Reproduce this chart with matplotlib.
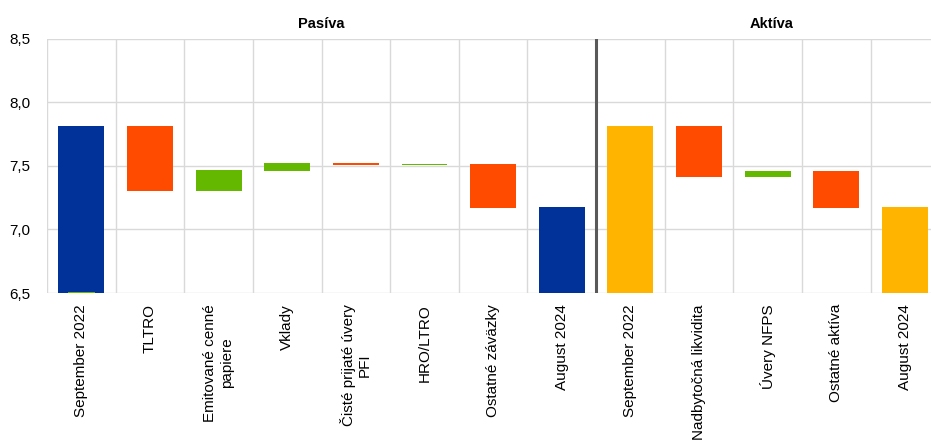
import matplotlib.pyplot as plt
from matplotlib.ticker import FuncFormatter

plt.rcParams['font.family'] = ['Liberation Sans', 'DejaVu Sans']

# categories (bottom-aligned labels)
labels = ['September 2022', 'TLTRO', 'Emitované cenné\npapiere', 'Vklady',
          'Čisté prijaté úvery\nPFI', 'HRO/LTRO', 'Ostatné záväzky', 'August 2024',
          'September 2022', 'Nadbytočná likvidita', 'Úvery NFPS', 'Ostatné aktíva',
          'August 2024']
# waterfall segments: low and high end of each bar
lows = [6.5, 7.305, 7.305, 7.463, 7.510, 7.505, 7.172, 6.5,
        6.5, 7.416, 7.416, 7.172, 6.5]
highs = [7.815, 7.815, 7.468, 7.524, 7.524, 7.513, 7.516, 7.175,
         7.815, 7.815, 7.461, 7.461, 7.175]
kinds = ['pas', 'neg', 'pos', 'pos', 'neg', 'pos', 'neg', 'pas',
         'akt', 'neg', 'pos', 'neg', 'akt']

colors = {'pas': '#003299', 'akt': '#FFB400', 'neg': '#FF4B00', 'pos': '#65B800'}

fig = plt.figure(figsize=(9.31, 4.43), dpi=100)
ax = fig.add_axes([0.0505, 0.3386, 0.9495, 0.5734])

x = list(range(len(labels)))
heights = [h - l for l, h in zip(lows, highs)]
ax.bar(x, heights, bottom=lows, width=0.67,
       color=[colors[k] for k in kinds], zorder=3)
# small green sliver at base of first bar (as in source)
ax.bar([0], [0.012], bottom=6.494, width=0.4, color=colors['pos'], zorder=4)

ax.set_ylim(6.5, 8.5)
ax.set_xlim(-0.5, 12.38)
ax.set_yticks([6.5, 7.0, 7.5, 8.0, 8.5])
ax.yaxis.set_major_formatter(FuncFormatter(lambda v, p: f'{v:.1f}'.replace('.', ',')))
ax.set_xticks(x)
ax.set_xticklabels(labels, rotation=90, ha='center', va='top',
                   multialignment='center', fontsize=11)
ax.tick_params(axis='y', length=0, pad=12, labelsize=11)
ax.tick_params(axis='x', length=0, pad=8)

# grid: horizontal at ticks, vertical between categories
for v in [6.5, 7.0, 7.5, 8.0, 8.5]:
    ax.axhline(v, color='#d9d9d9', lw=1, zorder=1)
for b in range(13):
    ax.axvline(b - 0.5, color='#d9d9d9', lw=1, zorder=1)
ax.axvline(7.5, color='#595959', lw=2.2, zorder=2)

for s in ax.spines.values():
    s.set_visible(False)

ax.text(3.5, 1.03, 'Pasíva', transform=ax.get_xaxis_transform(),
        ha='center', va='bottom', fontsize=10.5, fontweight='bold')
ax.text(10.05, 1.03, 'Aktíva', transform=ax.get_xaxis_transform(),
        ha='center', va='bottom', fontsize=10.5, fontweight='bold')

fig.savefig('out.png', dpi=100)
